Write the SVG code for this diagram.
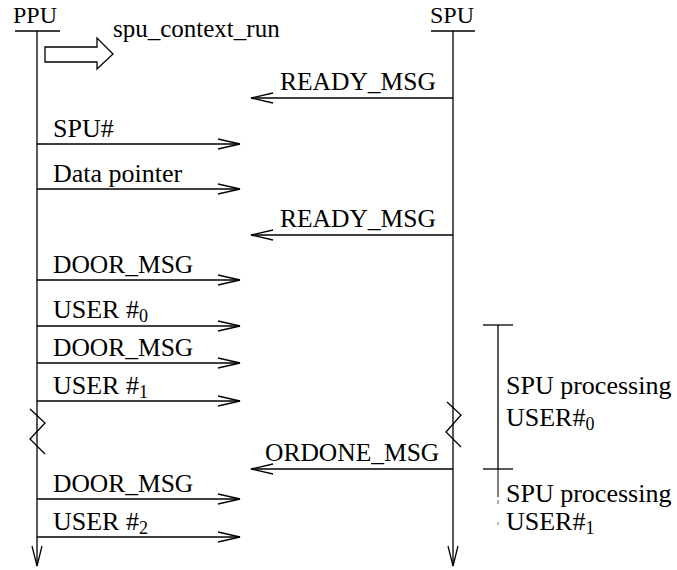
<svg xmlns="http://www.w3.org/2000/svg" width="677" height="570" viewBox="0 0 677 570">
  <style>
    .ln { stroke: #000; stroke-width: 1.3; fill: none; }
    .lbl { font-family: "Liberation Serif", "Times New Roman", serif; font-size: 26px; fill: #000; }
    .msg { font-size: 25.5px; }
    .hdr { font-size: 24px; }
    .sub { font-size: 18px; }
  </style>
  <defs>
    <marker id="open" markerUnits="userSpaceOnUse" markerWidth="30" markerHeight="16" viewBox="-24 -8 26 16" refX="0" refY="0" orient="auto">
      <path d="M-22,-5 L0,0 L-22,5" fill="none" stroke="#000" stroke-width="1.3"/>
    </marker>
    <marker id="life" markerUnits="userSpaceOnUse" markerWidth="30" markerHeight="16" viewBox="-24 -8 26 16" refX="0" refY="0" orient="auto">
      <path d="M-20,-5 L0,0 L-20,5" fill="none" stroke="#000" stroke-width="1.3"/>
    </marker>
  </defs>
  <rect width="677" height="570" fill="#fff"/>

  <!-- PPU lifeline -->
  <g id="ppu">
    <text class="lbl hdr" x="13" y="23">PPU</text>
    <line class="ln" x1="15" y1="31" x2="60" y2="31"/>
    <line class="ln" x1="37" y1="31" x2="37" y2="566" marker-end="url(#life)"/>
    <path class="ln" d="M30,409 L45,423 L30,439 L45,454"/>
  </g>

  <!-- SPU lifeline -->
  <g id="spu">
    <text class="lbl hdr" x="430" y="23">SPU</text>
    <line class="ln" x1="431" y1="31" x2="475" y2="31"/>
    <line class="ln" x1="453" y1="31" x2="453" y2="566" marker-end="url(#life)"/>
    <path class="ln" d="M447,402 L461,415 L446,432 L461,447"/>
  </g>

  <!-- spu_context_run call -->
  <g id="context-run">
    <path class="ln" d="M45,47 L97,47 L97,38 L113,54 L97,69 L97,62 L45,62 Z"/>
    <text class="lbl" x="113" y="37" style="font-size:25px">spu_context_run</text>
  </g>

  <!-- SPU processing intervals -->
  <g id="processing">
    <line class="ln" x1="498" y1="325" x2="498" y2="469"/>
    <line class="ln" x1="483" y1="325" x2="513" y2="325"/>
    <line class="ln" x1="483" y1="469" x2="513" y2="469"/>
    <text class="lbl" x="506" y="394">SPU processing</text>
    <text class="lbl" x="506" y="426">USER#<tspan class="sub" dy="4">0</tspan></text>
    <line x1="498" y1="469" x2="498" y2="497" stroke="#000" stroke-width="1"/>
    <line x1="498" y1="500" x2="498" y2="504" stroke="#555" stroke-width="1"/>
    <line x1="498" y1="522" x2="498" y2="525" stroke="#777" stroke-width="1"/>
    <text class="lbl" x="506" y="502">SPU processing</text>
    <text class="lbl" x="506" y="530">USER#<tspan class="sub" dy="4">1</tspan></text>
  </g>

  <!-- messages -->
  <g id="connectors">
    <line class="ln" x1="453" y1="98" x2="251" y2="98" marker-end="url(#open)"/>
    <text class="lbl msg" x="280" y="90">READY_MSG</text>

    <line class="ln" x1="37" y1="144" x2="240" y2="144" marker-end="url(#open)"/>
    <text class="lbl" x="53" y="137">SPU#</text>

    <line class="ln" x1="37" y1="189" x2="240" y2="189" marker-end="url(#open)"/>
    <text class="lbl" x="53" y="182">Data pointer</text>

    <line class="ln" x1="453" y1="235" x2="251" y2="235" marker-end="url(#open)"/>
    <text class="lbl msg" x="280" y="227">READY_MSG</text>

    <line class="ln" x1="37" y1="280" x2="240" y2="280" marker-end="url(#open)"/>
    <text class="lbl msg" x="53" y="273">DOOR_MSG</text>

    <line class="ln" x1="37" y1="326" x2="240" y2="326" marker-end="url(#open)"/>
    <text class="lbl" x="53" y="318">USER #<tspan class="sub" dy="4">0</tspan></text>

    <line class="ln" x1="37" y1="363" x2="240" y2="363" marker-end="url(#open)"/>
    <text class="lbl msg" x="53" y="356">DOOR_MSG</text>

    <line class="ln" x1="37" y1="401" x2="240" y2="401" marker-end="url(#open)"/>
    <text class="lbl" x="53" y="394">USER #<tspan class="sub" dy="4">1</tspan></text>

    <line class="ln" x1="453" y1="469" x2="251" y2="469" marker-end="url(#open)"/>
    <text class="lbl msg" x="265" y="461">ORDONE_MSG</text>

    <line class="ln" x1="37" y1="499" x2="240" y2="499" marker-end="url(#open)"/>
    <text class="lbl msg" x="53" y="492">DOOR_MSG</text>

    <line class="ln" x1="37" y1="537" x2="240" y2="537" marker-end="url(#open)"/>
    <text class="lbl" x="53" y="530">USER #<tspan class="sub" dy="4">2</tspan></text>
  </g>
</svg>
